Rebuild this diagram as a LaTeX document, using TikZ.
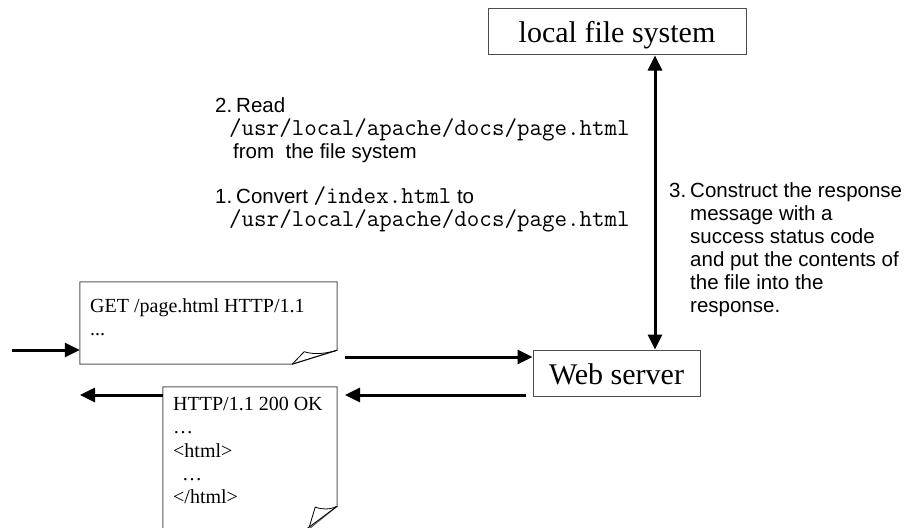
\documentclass[tikz,border=0pt]{standalone}
\usepackage{fontspec}
\setmainfont{Liberation Serif}
\newfontfamily\arialf{Liberation Sans}
\usetikzlibrary{arrows.meta,calc}

\newcommand{\pathfont}{\ttfamily\fontsize{24.3}{26}\selectfont}

\begin{document}
\begin{tikzpicture}[x=1pt,y=-1pt,
  box/.style={draw=black!70, line width=1pt, rectangle, inner sep=0pt,
    text height=24pt, text depth=2pt, font=\fontsize{30}{36}\selectfont},
  flow/.style={line width=3pt, -{Triangle[length=15pt,width=14pt]}},
  both/.style={line width=3pt,
    {Triangle[length=15pt,width=14pt]}-{Triangle[length=15pt,width=14pt]}},
  sheet/.style={rectangle, inner sep=0pt},
  paper/.style={draw=black!65, line width=1pt, fill=white},
  curl/.style={draw=black, line width=0.8pt},
  doctxt/.style={anchor=base west, inner sep=0pt, font=\fontsize{20}{24}\selectfont},
  sans/.style={anchor=base west, inner sep=0pt, font=\arialf\fontsize{20.5}{24}\selectfont},
  mono/.style={anchor=base west, inner sep=0pt, font=\pathfont},
]
\clip (0,0) rectangle (912,527);
\fill[white] (0,0) rectangle (912,527);

% servers and storage
\node[box, minimum width=258pt, minimum height=46pt] (lfs) at (617,32) {local file system};
\node[box, minimum width=167pt, minimum height=46pt] (ws) at (616.5,373) {Web server};

% request sheet with folded corner
\node[sheet, minimum width=257pt, minimum height=82pt] (req) at (208.5,323) {};
\draw[paper] (req.north west) -- (req.north east) -- ($(req.south east)+(0,-14)$)
  -- ($(req.south east)+(-45,0)$) -- (req.south west) -- cycle;
\draw[curl] ($(req.south east)+(-45,0)$) -- ($(req.south east)+(0,-14)$);
\draw[curl] ($(req.south east)+(-45,0)$) -- ($(req.south east)+(-33,-12.5)$)
  .. controls ($(req.south east)+(-22,-9)$) and ($(req.south east)+(-10,-11)$) .. ($(req.south east)+(0,-14)$);
\node[doctxt] (q1) at (90,312) {GET /page.html HTTP/1.1};
\node[doctxt] (q2) at (90,335) {...};

% response sheet, running off the bottom edge
\node[sheet, minimum width=174pt, minimum height=144pt] (resp) at (250,459) {};
\draw[paper] (resp.north west) -- (resp.north east) -- ($(resp.south east)+(0,-25)$)
  -- ($(resp.south east)+(-31,0)$) -- (resp.south west) -- cycle;
\draw[curl] ($(resp.south east)+(0,-25)$) -- ($(resp.south east)+(-31,-2)$);
\draw[curl] ($(resp.south east)+(0,-25)$)
  .. controls ($(resp.south east)+(-8,-21)$) and ($(resp.south east)+(-16,-22)$) .. ($(resp.south east)+(-22,-24)$)
  -- ($(resp.south east)+(-28,-4)$);
\node[doctxt] (p1) at (173,410) {HTTP/1.1 200 OK};
\node[doctxt] (p2) at (173,433) {…};
\node[doctxt] (p3) at (173,457) {<html>};
\node[doctxt] (p4) at (182,480) {…};
\node[doctxt] (p5) at (173,503) {</html>};

% connectors
\coordinate (inA) at (12,350);
\coordinate (outA) at (80,395);
\coordinate (rqA) at (345,357);
\coordinate (wsB) at (526,395);
\coordinate (rsB) at (345,395);
\coordinate (vx) at (655,0);
\draw[flow] (inA) -- (req.west |- inA);
\draw[flow] (rqA) -- (ws.west |- rqA);
\draw[flow] (wsB) -- (rsB);
\draw[flow] (resp.west |- outA) -- (outA);
\draw[both] (lfs.south -| vx) -- (ws.north -| vx);

% numbered notes
\node[sans] (n2) at (215,112) {2.};
\node[sans] (s2a) at (236,112) {Read};
\node[mono] (s2b) at (229,135) {/usr/local/apache/docs/page.html};
\node[sans] (s2c) at (233,158) {from\ \ the file system};
\node[sans] (n1) at (215,203) {1.};
\node[sans] (s1a) at (236,203) {Convert {\pathfont /index.html} to};
\node[mono] (s1b) at (229,226) {/usr/local/apache/docs/page.html};

\node[sans] (n3) at (669,197) {3.};
\node[sans] (s3a) at (690,197) {Construct the response};
\node[sans] (s3b) at (690,220) {message with a};
\node[sans] (s3c) at (690,243) {success status code};
\node[sans] (s3d) at (690,266) {and put the contents of};
\node[sans] (s3e) at (690,289) {the file into the};
\node[sans] (s3f) at (690,312) {response.};
\end{tikzpicture}
\end{document}
